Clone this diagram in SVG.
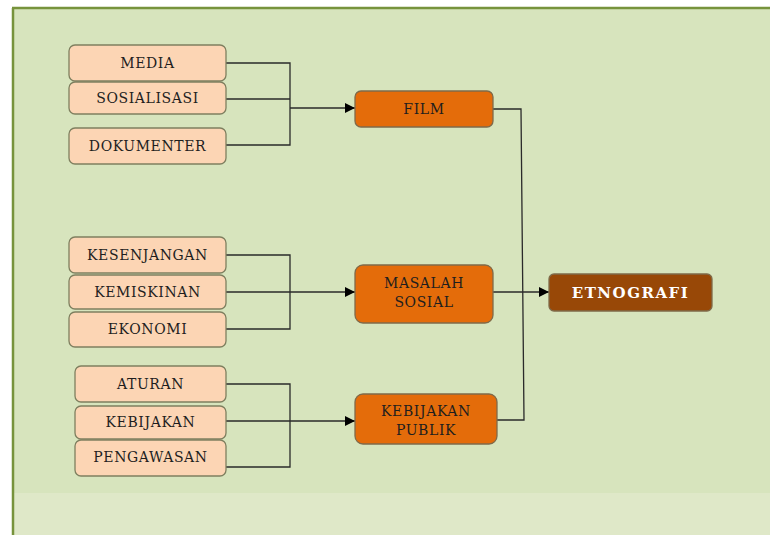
<svg xmlns="http://www.w3.org/2000/svg" width="770" height="535" viewBox="0 0 770 535">
<style>
.bg{fill:#d7e4bd}
.src rect{fill:#fcd5b4;stroke:#7f7f5f;stroke-width:1.3}
.mid rect{fill:#e46c0a;stroke:#7f6a4a;stroke-width:1.3}
.top rect{fill:#984807;stroke:#7f6a4a;stroke-width:1.3}
text{font-family:"DejaVu Serif","Liberation Serif",serif;font-size:14px;fill:#1e1e1e;text-anchor:middle;letter-spacing:0.6px}
.top text{fill:#ffffff;font-weight:bold;font-size:15px;letter-spacing:1.5px}
.conn path{fill:none;stroke:#2a2a2a;stroke-width:1.3}
</style>
<defs>
<marker id="ah" viewBox="0 0 10 10" refX="10" refY="5" markerWidth="10" markerHeight="10" markerUnits="userSpaceOnUse" orient="auto">
<path d="M0,0 L10,5 L0,10 Z" fill="#000"/>
</marker>
</defs>
<rect x="0" y="0" width="770" height="535" fill="#ffffff"/>
<rect class="bg" x="13" y="8" width="757" height="527"/>
<rect x="14" y="493" width="756" height="42" fill="#dfe8c8"/>
<line x1="12" y1="8" x2="770" y2="8" stroke="#77933c" stroke-width="2.5"/>
<line x1="13" y1="8" x2="13" y2="535" stroke="#77933c" stroke-width="2.5"/>

<g class="conn">
<path d="M226,63 H290 V145 H226"/>
<path d="M226,99 H290"/>
<path d="M290,108 H355" marker-end="url(#ah)"/>
<path d="M226,255 H290 V329 H226"/>
<path d="M226,292 H355" marker-end="url(#ah)"/>
<path d="M226,384 H290 V467 H226"/>
<path d="M226,421 H355" marker-end="url(#ah)"/>
<path d="M493,109 H521 L524,420 H497"/>
<path d="M493,292 H549" marker-end="url(#ah)"/>
</g>

<g id="media" class="src"><rect x="69" y="45" width="157" height="36" rx="6"/><text x="147.5" y="68">MEDIA</text></g>
<g id="sosialisasi" class="src"><rect x="69" y="82" width="157" height="32" rx="6"/><text x="147.5" y="103">SOSIALISASI</text></g>
<g id="dokumenter" class="src"><rect x="69" y="128" width="157" height="36" rx="6"/><text x="147.5" y="151">DOKUMENTER</text></g>

<g id="kesenjangan" class="src"><rect x="69" y="237" width="157" height="36" rx="6"/><text x="147.5" y="260">KESENJANGAN</text></g>
<g id="kemiskinan" class="src"><rect x="69" y="275" width="157" height="34" rx="6"/><text x="147.5" y="297">KEMISKINAN</text></g>
<g id="ekonomi" class="src"><rect x="69" y="312" width="157" height="35" rx="6"/><text x="147.5" y="334">EKONOMI</text></g>

<g id="aturan" class="src"><rect x="75" y="366" width="151" height="36" rx="6"/><text x="150.5" y="389">ATURAN</text></g>
<g id="kebijakan" class="src"><rect x="75" y="406" width="151" height="33" rx="6"/><text x="150.5" y="427">KEBIJAKAN</text></g>
<g id="pengawasan" class="src"><rect x="75" y="440" width="151" height="36" rx="6"/><text x="150.5" y="462">PENGAWASAN</text></g>

<g id="film" class="mid"><rect x="355" y="91" width="138" height="36" rx="6"/><text x="424" y="114">FILM</text></g>
<g id="masalah" class="mid"><rect x="355" y="265" width="138" height="58" rx="8"/><text x="424" y="288">MASALAH</text><text x="424" y="307">SOSIAL</text></g>
<g id="kebijakan-publik" class="mid"><rect x="355" y="394" width="142" height="50" rx="8"/><text x="426" y="416">KEBIJAKAN</text><text x="426" y="435">PUBLIK</text></g>

<g id="etnografi" class="top"><rect x="549" y="274" width="163" height="37" rx="5"/><text x="630.5" y="298">ETNOGRAFI</text></g>
</svg>
